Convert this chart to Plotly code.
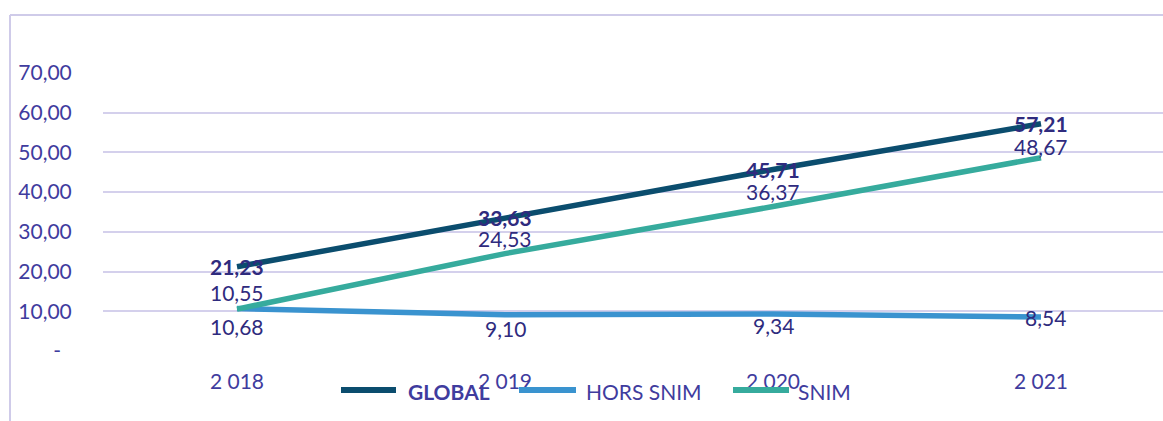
import plotly.graph_objects as go

years = ["2 018", "2 019", "2 020", "2 021"]
global_vals = [21.23, 33.63, 45.71, 57.21]
hors_snim = [10.68, 9.10, 9.34, 8.54]
snim = [10.55, 24.53, 36.37, 48.67]
y_ticks = [0, 10, 20, 30, 40, 50, 60, 70]
y_ticktext = ["-\u00a0\u00a0"] + [f"{v:.2f}".replace(".", ",") for v in y_ticks[1:]]

series_names = ["GLOBAL", "HORS SNIM", "SNIM"]
series_colors = ["#0b4d6e", "#3a93cf", "#36ab9d"]

def fmt(v):
    return f"{v:.2f}".replace(".", ",")

W, H = 1163, 421
ml, mr, mt, mb = 103, 0, 73, 70
pw, ph = W - ml - mr, H - mt - mb
step = 268.0

xs = list(range(len(years)))
FONT = "Lato"
tick_col = "#3f3c9e"
lab_col = "#2f2b7e"
FS = 21

fig = go.Figure()
for name, vals, col in zip(series_names, [global_vals, hors_snim, snim], series_colors):
    fig.add_trace(go.Scatter(x=xs, y=vals, name=name, mode="lines",
                             line=dict(color=col, width=5.5), showlegend=False))

# data labels
hors_shift = [-18, -14, -12, 0]
snim_shift = [17, 15, 15, 11]
for i in xs:
    fig.add_annotation(x=i, y=global_vals[i], text=f"<b>{fmt(global_vals[i])}</b>", showarrow=False,
                       font=dict(family=FONT, size=FS, color=lab_col))
    fig.add_annotation(x=i, y=hors_snim[i], text=fmt(hors_snim[i]), showarrow=False,
                       yshift=hors_shift[i], xshift=(4 if i == 3 else 0),
                       font=dict(family=FONT, size=FS, color=lab_col))
    fig.add_annotation(x=i, y=snim[i], text=fmt(snim[i]), showarrow=False,
                       yshift=snim_shift[i],
                       font=dict(family=FONT, size=FS, color=lab_col))

def px_x(p):
    return (p - ml) / pw

def px_y(p):
    return (H - mb - p) / ph

# legend (manual, to match long swatches)
leg_y = 390
leg_items = [(341, 396, 406), (519, 576, 584), (733, 789, 796)]
for (x0, x1, tx), name, col in zip(leg_items, series_names, series_colors):
    fig.add_shape(type="line", xref="paper", yref="paper", x0=px_x(x0), x1=px_x(x1),
                  y0=px_y(leg_y), y1=px_y(leg_y), line=dict(color=col, width=6))
    fig.add_annotation(xref="paper", yref="paper", x=px_x(tx), y=px_y(leg_y + 1),
                       xanchor="left", yanchor="middle", showarrow=False,
                       text=(f"<b>{name}</b>" if name == "GLOBAL" else name),
                       font=dict(family=FONT, size=FS, color=tick_col))

border = "#cfcbe9"
fig.add_shape(type="line", xref="paper", yref="paper", x0=px_x(10), x1=px_x(10),
              y0=px_y(H + 2), y1=px_y(15), line=dict(color=border, width=2))
fig.add_shape(type="line", xref="paper", yref="paper", x0=px_x(10), x1=px_x(W + 5),
              y0=px_y(15), y1=px_y(15), line=dict(color=border, width=2))

fig.update_layout(
    width=W, height=H,
    margin=dict(l=ml, r=mr, t=mt, b=mb, autoexpand=False),
    paper_bgcolor="white", plot_bgcolor="white",
    font=dict(family=FONT, size=FS, color=tick_col),
    showlegend=False,
    xaxis=dict(range=[-0.5, -0.5 + pw / step], tickvals=xs, ticktext=years,
               showgrid=False, zeroline=False, showline=False,
               ticks="outside", ticklen=12, tickcolor="rgba(0,0,0,0)",
               tickfont=dict(family=FONT, size=FS, color=tick_col)),
    yaxis=dict(range=[0, 70], tickvals=y_ticks, ticktext=y_ticktext,
               showgrid=True, gridcolor="#d4d0ec", gridwidth=1.5,
               zeroline=False, showline=False,
               ticks="outside", ticklen=26, tickcolor="rgba(0,0,0,0)",
               tickfont=dict(family=FONT, size=FS, color=tick_col)),
)
fig.write_html("out.html", config={"displayModeBar": False},
               post_script="document.body.style.margin='0';")
